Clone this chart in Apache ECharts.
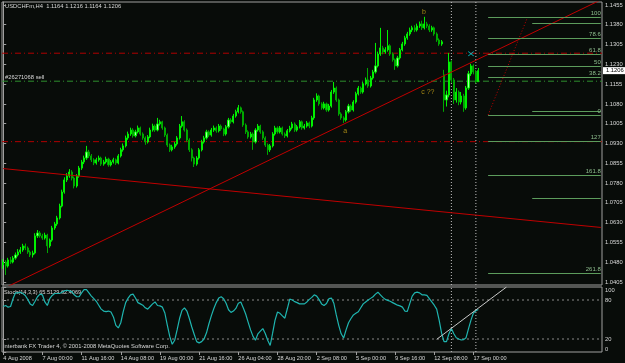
<!DOCTYPE html>
<html><head><meta charset="utf-8">
<script src="https://cdn.jsdelivr.net/npm/echarts@6/dist/echarts.min.js"></script>
<style>html,body{margin:0;padding:0;background:#080c09;}#c{width:625px;height:363px;}</style>
</head><body><div id="c"></div>
<script>
// ---------- data ----------
const symbolName = 'USDCHFm,H4';
const orderLabel = '#26271068 sell';
const copyright = 'Interbank FX Trader 4, \u00a9 2001-2008 MetaQuotes Software Corp.';
const N_SLOTS = 245; // visible bar slots (incl. empty right shift)

const opens = [1.0470,1.0481,1.0466,1.0489,1.0481,1.0496,1.0508,1.0519,1.0527,1.0542,
1.0534,1.0519,1.0508,1.0515,1.0580,1.0591,1.0580,1.0572,1.0583,1.0542,
1.0564,1.0610,1.0625,1.0648,1.0693,1.0746,1.0792,1.0807,1.0822,1.0799,
1.0769,1.0807,1.0837,1.0860,1.0875,1.0898,1.0883,1.0868,1.0856,1.0868,
1.0875,1.0852,1.0860,1.0871,1.0849,1.0860,1.0868,1.0856,1.0883,1.0906,
1.0921,1.0951,1.0966,1.0981,1.0959,1.0974,1.0989,1.0966,1.0951,1.0936,
1.0955,1.0981,1.0996,1.0981,1.1004,1.1012,1.0989,1.0962,1.0924,1.0906,
1.0917,1.0928,1.0951,1.0996,1.1012,1.0981,1.0943,1.0906,1.0875,1.0852,
1.0875,1.0906,1.0936,1.0951,1.0974,1.0962,1.0981,1.0989,1.0978,1.0996,
1.0985,1.0966,1.0993,1.1019,1.1012,1.1034,1.1050,1.1065,1.1050,1.1000,
1.0974,1.0955,1.0966,1.0936,1.0981,1.0996,1.0974,1.0951,1.0924,1.0906,
1.0921,1.0966,1.0989,1.0974,1.0989,1.0966,1.0959,1.0978,1.0989,1.1004,
1.0981,1.0993,1.1012,1.0989,1.0996,1.1008,1.0996,1.1027,1.1095,1.1110,
1.1080,1.1065,1.1080,1.1057,1.1072,1.1125,1.1140,1.1095,1.1042,1.1027,
1.1019,1.1050,1.1072,1.1057,1.1087,1.1118,1.1140,1.1125,1.1156,1.1171,
1.1148,1.1178,1.1201,1.1224,1.1269,1.1292,1.1277,1.1285,1.1300,1.1269,
1.1247,1.1224,1.1254,1.1285,1.1307,1.1330,1.1345,1.1360,1.1368,1.1360,
1.1375,1.1383,1.1368,1.1383,1.1375,1.1360,1.1368,1.1345,1.1322,1.1307,
1.1190,1.1095,1.1114,1.1239,1.1171,1.1095,1.1125,1.1087,1.1110,1.1065,
1.1140,1.1194,1.1224,1.1201,1.1164];
const highs = [1.0492,1.0488,1.0497,1.0500,1.0504,1.0517,1.0530,1.0538,1.0550,1.0551,
1.0540,1.0525,1.0524,1.0590,1.0602,1.0598,1.0588,1.0592,1.0588,1.0570,
1.0618,1.0633,1.0656,1.0702,1.0755,1.0802,1.0818,1.0833,1.0829,1.0805,
1.0814,1.0845,1.0868,1.0884,1.0921,1.0906,1.0890,1.0874,1.0876,1.0884,
1.0880,1.0868,1.0880,1.0876,1.0867,1.0876,1.0873,1.0890,1.0914,1.0930,
1.0960,1.0975,1.0990,1.0988,1.0982,1.0998,1.0994,1.0972,1.0957,1.0962,
1.0990,1.1005,1.1002,1.1027,1.1020,1.1016,1.0994,1.0968,1.0930,1.0925,
1.0936,1.0958,1.1004,1.1034,1.1018,1.0987,1.0950,1.0912,1.0880,1.0882,
1.0913,1.0944,1.0959,1.0982,1.0980,1.0989,1.0998,1.0995,1.1004,1.1002,
1.0990,1.1000,1.1027,1.1026,1.1042,1.1058,1.1076,1.1070,1.1055,1.1006,
1.0980,1.0974,1.0972,1.0988,1.1004,1.1001,1.0980,1.0957,1.0930,1.0928,
1.0973,1.0997,1.0995,1.0996,1.0994,1.0972,1.0985,1.0997,1.1012,1.1010,
1.1000,1.1019,1.1017,1.1004,1.1015,1.1013,1.1035,1.1103,1.1120,1.1115,
1.1086,1.1088,1.1085,1.1080,1.1133,1.1163,1.1146,1.1100,1.1048,1.1033,
1.1057,1.1080,1.1078,1.1094,1.1126,1.1148,1.1146,1.1163,1.1180,1.1216,
1.1186,1.1209,1.1311,1.1278,1.1368,1.1300,1.1295,1.1360,1.1306,1.1275,
1.1252,1.1262,1.1292,1.1315,1.1338,1.1353,1.1369,1.1376,1.1378,1.1384,
1.1392,1.1395,1.1410,1.1391,1.1382,1.1376,1.1373,1.1351,1.1328,1.1322,
1.1209,1.1130,1.1273,1.1245,1.1178,1.1140,1.1131,1.1125,1.1118,1.1148,
1.1205,1.1232,1.1230,1.1208,1.1216];
const lows = [1.0455,1.0432,1.0460,1.0474,1.0476,1.0490,1.0502,1.0512,1.0520,1.0526,
1.0512,1.0500,1.0498,1.0510,1.0572,1.0573,1.0565,1.0566,1.0515,1.0535,
1.0558,1.0603,1.0618,1.0642,1.0688,1.0740,1.0784,1.0800,1.0790,1.0760,
1.0763,1.0800,1.0830,1.0852,1.0868,1.0875,1.0860,1.0848,1.0850,1.0861,
1.0845,1.0846,1.0854,1.0842,1.0843,1.0854,1.0849,1.0851,1.0877,1.0899,
1.0915,1.0944,1.0959,1.0952,1.0953,1.0968,1.0960,1.0944,1.0925,1.0930,
1.0950,1.0975,1.0974,1.0976,1.0998,1.0982,1.0955,1.0917,1.0898,1.0900,
1.0910,1.0922,1.0945,1.0990,1.0975,1.0936,1.0898,1.0862,1.0841,1.0846,
1.0869,1.0900,1.0930,1.0945,1.0955,1.0956,1.0974,1.0971,1.0972,1.0978,
1.0958,1.0960,1.0987,1.1005,1.1006,1.1028,1.1044,1.1043,1.0993,1.0966,
1.0948,1.0949,1.0906,1.0930,1.0975,1.0967,1.0944,1.0917,1.0887,1.0898,
1.0915,1.0960,1.0967,1.0968,1.0960,1.0951,1.0953,1.0972,1.0983,1.0974,
1.0975,1.0987,1.0982,1.0983,1.0990,1.0988,1.0991,1.1020,1.1088,1.1073,
1.1058,1.1059,1.1050,1.1051,1.1066,1.1118,1.1088,1.1035,1.1020,1.1008,
1.1013,1.1044,1.1050,1.1051,1.1081,1.1112,1.1118,1.1119,1.1150,1.1141,
1.1142,1.1172,1.1195,1.1218,1.1262,1.1268,1.1270,1.1278,1.1262,1.1240,
1.1209,1.1218,1.1248,1.1279,1.1300,1.1323,1.1338,1.1352,1.1352,1.1354,
1.1368,1.1360,1.1362,1.1367,1.1352,1.1353,1.1338,1.1315,1.1300,1.1300,
1.1050,1.1070,1.1105,1.1160,1.1080,1.1085,1.1075,1.1078,1.1050,1.1058,
1.1133,1.1186,1.1192,1.1158,1.1164];
const closes = [1.0481,1.0466,1.0489,1.0481,1.0496,1.0508,1.0519,1.0527,1.0542,1.0534,
1.0519,1.0508,1.0515,1.0580,1.0591,1.0580,1.0572,1.0583,1.0542,1.0564,
1.0610,1.0625,1.0648,1.0693,1.0746,1.0792,1.0807,1.0822,1.0799,1.0769,
1.0807,1.0837,1.0860,1.0875,1.0898,1.0883,1.0868,1.0856,1.0868,1.0875,
1.0852,1.0860,1.0871,1.0849,1.0860,1.0868,1.0856,1.0883,1.0906,1.0921,
1.0951,1.0966,1.0981,1.0959,1.0974,1.0989,1.0966,1.0951,1.0936,1.0955,
1.0981,1.0996,1.0981,1.1004,1.1012,1.0989,1.0962,1.0924,1.0906,1.0917,
1.0928,1.0951,1.0996,1.1012,1.0981,1.0943,1.0906,1.0875,1.0852,1.0875,
1.0906,1.0936,1.0951,1.0974,1.0962,1.0981,1.0989,1.0978,1.0996,1.0985,
1.0966,1.0993,1.1019,1.1012,1.1034,1.1050,1.1065,1.1050,1.1000,1.0974,
1.0955,1.0966,1.0936,1.0981,1.0996,1.0974,1.0951,1.0924,1.0906,1.0921,
1.0966,1.0989,1.0974,1.0989,1.0966,1.0959,1.0978,1.0989,1.1004,1.0981,
1.0993,1.1012,1.0989,1.0996,1.1008,1.0996,1.1027,1.1095,1.1110,1.1080,
1.1065,1.1080,1.1057,1.1072,1.1125,1.1140,1.1095,1.1042,1.1027,1.1019,
1.1050,1.1072,1.1057,1.1087,1.1118,1.1140,1.1125,1.1156,1.1171,1.1148,
1.1178,1.1201,1.1224,1.1269,1.1292,1.1277,1.1285,1.1300,1.1269,1.1247,
1.1224,1.1254,1.1285,1.1307,1.1330,1.1345,1.1360,1.1368,1.1360,1.1375,
1.1383,1.1368,1.1383,1.1375,1.1360,1.1368,1.1345,1.1322,1.1307,1.1315,
1.1095,1.1114,1.1239,1.1171,1.1095,1.1125,1.1087,1.1110,1.1065,1.1140,
1.1194,1.1224,1.1201,1.1164,1.1206];

const stochMain = [70,71.5,69,70,82,91,91,92,90,87,
81,74,71.5,78,85,89,88,77,71.5,82,
87,90,90,90,92,94,95,94,93,88,
85,85,91,96,96,91,86,82,78,72,
66,63,62,63,61.5,54,41,37,45,62,
76,83,88,89,83,76,74,72,68,66,
70,74,77,71.5,71,69,60,41.5,24,12,
18,34,51.5,64,68,63,51.5,38.5,27,16,
14,16,20,29.5,43.5,56,67,76,83,85,
82,75,65,61,63,67,75,77,68,58.5,
46,34,24,18,28,32,36,28.5,18,10,
29,49,61.5,59.5,55.5,52,66.5,81.5,80,77.5,
76,74,74,74,77,81,84,88,86,80.5,
74,71.5,74.5,82,83,75,57,41,28,21.5,
34,45,51.5,57,59.5,62,68,74,77,80,
82.5,85,89,92,88,84,81,79.5,78,76,
74,72,71,69,63,62.5,74.5,86,91,92,
91,88,88,87,82,77,72,66,49,29,
16,16,28,36,28,22,20,18.5,19,22,
36,49,60,63.5,65.5];
const stochLast = ['65.5129', '62.4069'];
const stochLevels = [20, 80];
const stochTicks = [0, 20, 80, 100];

const priceTicks = [1.1455,1.1380,1.1305,1.1230,1.1155,1.1080,1.1005,1.0930,1.0855,1.0780,1.0705,1.0630,1.0555,1.0480,1.0405];
const dateLabels = ['4 Aug 2008','7 Aug 00:00','11 Aug 16:00','14 Aug 08:00','19 Aug 00:00','21 Aug 16:00','26 Aug 04:00','28 Aug 20:00','2 Sep 08:00','5 Sep 00:00','9 Sep 16:00','12 Sep 08:00','17 Sep 00:00'];
const dateIdx = [0,16,32,48,64,80,96,112,128,144,160,176,192];

// horizontal order / stop lines
const hLinePrices = [1.1272, 1.1166, 1.0937];
const hLineColors = ['#b00000', '#2e8f2e', '#b00000'];
// vertical dotted lines (bar index)
const vLineIdx = [183, 193];
// trendlines [barIndex, price]
const trendUp = [[0, 1.0380], [244, 1.1474]];
const trendDown = [[0, 1.0835], [244, 1.0612]];
const trendSteep = [[198, 1.1038], [214, 1.1406]];
// fibonacci levels
const fibLabels = ['100','78.6','61.8','50','38.2','0','127','161.8','261.8'];
const fibPrices = [1.1408,1.1329,1.1267,1.1223,1.1180,1.1037,1.0937,1.0810,1.0439];
const fibStart = 198, fibEnd = 244;
const extraLevelPrices = [1.1386, 1.1052, 1.0723];
const extraStart = 216;
// wave annotations
const waveText = ['b', 'a', 'c ??'];
const wavePos = [[171.8, 1.1428], [139.6, 1.0978], [173.4, 1.1125]];
const markerPos = [[191, 1.1270]];
// stoch helper line
const stochLine = [[177, 19.5], [205.5, 100]];

// ---------- build ----------
const cats = Array.from({length: N_SLOTS}, (_, i) => String(i));
const dateCats = Array.from({length: N_SLOTS}, () => '');
dateIdx.forEach((k, j) => { dateCats[k] = dateLabels[j]; });
const candleData = opens.map((o, i) => [o, closes[i], lows[i], highs[i]]);
const lastIdx = closes.length - 1;
const headerText = symbolName + '  ' + [opens[lastIdx], highs[lastIdx], lows[lastIdx], closes[lastIdx]].map(v => v.toFixed(4)).join(' ');

const FONT = 'Liberation Sans';
const txt = '#d8d8d8';
const gray = '#a0a0a0';
const pMin = 1.0394, pMax = 1.1466;
const xLo = -0.5, xHi = N_SLOTS - 0.5;

const fibMark = fibPrices.map((p, k) => [
  {coord: [fibStart, p], label: {show: true, formatter: fibLabels[k]}},
  {coord: [fibEnd, p]}
]).concat(extraLevelPrices.map(p => [{coord: [extraStart, p], label: {show: false}}, {coord: [fibEnd, p]}]));

const series = [
  {type: 'candlestick', xAxisIndex: 0, yAxisIndex: 0, data: candleData, barWidth: 1.6, z: 3,
    itemStyle: {color: '#a8ffa8', color0: '#00e000', borderColor: '#00f000', borderColor0: '#00a800', borderWidth: 1}},
  {type: 'line', xAxisIndex: 1, yAxisIndex: 0, data: trendUp, symbol: 'none', lineStyle: {color: '#c00000', width: 1}, z: 4,
    markLine: {silent: true, symbol: 'none', lineStyle: {color: '#5c9c5c', width: 1, type: 'solid'},
      label: {show: true, position: 'insideEndTop', distance: [0, 1], color: '#8fbf8f', fontSize: 6, fontFamily: FONT},
      data: fibMark}},
  {type: 'line', xAxisIndex: 1, yAxisIndex: 0, data: trendDown, symbol: 'none', lineStyle: {color: '#c00000', width: 1}, z: 4},
  {type: 'line', xAxisIndex: 1, yAxisIndex: 0, data: trendSteep, symbol: 'none', lineStyle: {color: '#c00000', width: 1, type: [1, 2]}, z: 4},
  {type: 'scatter', xAxisIndex: 1, yAxisIndex: 0, data: wavePos, symbolSize: 0, z: 6,
    label: {show: true, position: 'inside', formatter: p => waveText[p.dataIndex], color: '#c8a418', fontSize: 7, fontFamily: FONT}},
  {type: 'scatter', xAxisIndex: 1, yAxisIndex: 0, data: markerPos, symbol: 'path://M0,1L1,0L5,4L9,0L10,1L6,5L10,9L9,10L5,6L1,10L0,9L4,5Z', symbolSize: [6, 5], itemStyle: {color: '#00e5ee'}, z: 6},
  {type: 'line', xAxisIndex: 2, yAxisIndex: 2, data: stochMain, symbol: 'none', lineStyle: {color: '#1fb5b0', width: 1.2}, z: 4},
  {type: 'line', xAxisIndex: 3, yAxisIndex: 2, data: stochLine, symbol: 'none', lineStyle: {color: '#c8c8c8', width: 1}, z: 5}
];
// horizontal dash-dot lines across the price pane
hLinePrices.forEach((p, k) => series.push({type: 'line', xAxisIndex: 1, yAxisIndex: 0, data: [[xLo, p], [xHi, p]], symbol: 'none', z: 2,
  lineStyle: {color: hLineColors[k], width: 1, type: [6, 3, 1, 3]}}));
// stochastic 20/80 levels
stochLevels.forEach(v => series.push({type: 'line', xAxisIndex: 3, yAxisIndex: 2, data: [[xLo, v], [xHi, v]], symbol: 'none', z: 2,
  lineStyle: {color: '#8a8a8a', width: 1, type: [2, 3]}}));
// vertical dotted lines in both panes
vLineIdx.forEach(v => {
  series.push({type: 'line', xAxisIndex: 1, yAxisIndex: 0, data: [[v, pMin], [v, pMax]], symbol: 'none', z: 2, lineStyle: {color: '#c0c0c0', width: 1, type: [1, 2]}});
  series.push({type: 'line', xAxisIndex: 3, yAxisIndex: 2, data: [[v, 0], [v, 100]], symbol: 'none', z: 2, lineStyle: {color: '#c0c0c0', width: 1, type: [1, 2]}});
});

const option = {
  animation: false,
  backgroundColor: '#080c09',
  grid: [
    {left: 2, top: 2, width: 600, height: 283, show: true, borderColor: gray, borderWidth: 1, outerBoundsMode: 'none', containLabel: false},
    {left: 2, top: 287, width: 600, height: 65, show: true, borderColor: gray, borderWidth: 1, outerBoundsMode: 'none', containLabel: false}
  ],
  xAxis: [
    {type: 'category', gridIndex: 0, data: cats, boundaryGap: true, axisLine: {show: false}, axisTick: {show: false}, axisLabel: {show: false}, splitLine: {show: false}},
    {type: 'value', gridIndex: 0, min: xLo, max: xHi, show: false},
    {type: 'category', gridIndex: 1, data: dateCats, boundaryGap: true, axisLine: {show: false},
      axisTick: {show: true, length: 3, alignWithLabel: true, interval: (i) => dateCats[i] !== '', lineStyle: {color: gray}},
      axisLabel: {interval: (i) => dateCats[i] !== '', color: txt, fontSize: 5.6, fontFamily: FONT, align: 'left', margin: 3},
      splitLine: {show: false}},
    {type: 'value', gridIndex: 1, min: xLo, max: xHi, show: false}
  ],
  yAxis: [
    {type: 'value', gridIndex: 0, position: 'right', min: pMin, max: pMax, scale: true,
      axisLine: {show: true, lineStyle: {color: gray}},
      axisTick: {show: true, length: 3, customValues: priceTicks, lineStyle: {color: gray}},
      axisLabel: {customValues: priceTicks, formatter: v => v.toFixed(4), color: txt, fontSize: 5.8, fontFamily: FONT, margin: 3},
      splitLine: {show: false}},
    {type: 'value', gridIndex: 0, position: 'right', min: pMin, max: pMax, scale: true,
      axisLine: {show: false}, axisTick: {show: false},
      axisLabel: {customValues: [closes[lastIdx]], formatter: v => v.toFixed(4), color: '#000', backgroundColor: '#ffffff', padding: [1, 3, 0, 3], fontSize: 5.8, fontFamily: FONT, margin: 1},
      splitLine: {show: false}},
    {type: 'value', gridIndex: 1, position: 'right', min: 0, max: 100,
      axisLine: {show: true, lineStyle: {color: gray}},
      axisTick: {show: true, length: 3, customValues: stochTicks, lineStyle: {color: gray}},
      axisLabel: {customValues: stochTicks, color: txt, fontSize: 5.8, fontFamily: FONT, margin: 3,
        formatter: v => v === 100 ? '{dn|100}' : (v === 0 ? '{up|0}' : String(v)),
        rich: {dn: {padding: [6, 0, 0, 0], fontSize: 5.8, color: txt, fontFamily: FONT}, up: {padding: [0, 0, 6, 0], fontSize: 5.8, color: txt, fontFamily: FONT}}},
      splitLine: {show: false}}
  ],
  series: series,
  graphic: [
    {type: 'text', left: 5, top: 3, style: {text: headerText, fill: txt, font: '5.8px "' + FONT + '"'}},
    {type: 'text', left: 5, top: 74, style: {text: orderLabel, fill: txt, font: '5.8px "' + FONT + '"'}},
    {type: 'text', left: 4, top: 289, style: {text: 'Stoch(14,3,3) ' + stochLast.join(' '), fill: txt, font: '5.6px "' + FONT + '"'}},
    {type: 'text', left: 3, top: 343, style: {text: copyright, fill: txt, font: '5.8px "' + FONT + '"'}}
  ]
};

const chart = echarts.init(document.getElementById('c'));
chart.setOption(option);
</script></body></html>
